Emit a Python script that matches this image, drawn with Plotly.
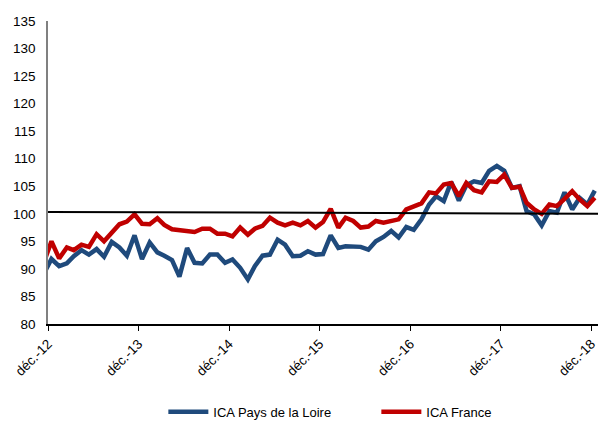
import pandas as pd
import plotly.graph_objects as go

# Monthly observations (mid-month), first value (nov.-12) lies just before the axis start
months = [d.strftime("%Y-%m-15") for d in pd.date_range("2012-11-01", "2018-12-01", freq="MS")]

ica_pdl = [89.2,
           91.8, 90.5, 91.0, 92.3, 93.4, 92.6, 93.6, 92.2, 94.9, 93.9, 92.4, 96.1,
           91.8, 94.8, 93.0, 92.4, 91.6, 88.6, 93.8, 91.1, 91.0, 92.6, 92.6, 91.1,
           91.7, 90.2, 88.1, 90.5, 92.4, 92.6, 95.3, 94.4, 92.3, 92.4, 93.2, 92.6,
           92.7, 96.1, 93.8, 94.1, 94.1, 94.0, 93.5, 95.0, 95.8, 96.9, 95.7, 97.6,
           97.1, 99.0, 101.7, 103.2, 102.3, 105.8, 102.4, 105.2, 105.9, 105.6, 107.8, 108.7,
           107.8, 104.7, 105.0, 100.5, 99.9, 97.9, 100.5, 100.2, 103.9, 100.8, 102.9, 101.7,
           104.2]

ica_france = [91.3,
              95.0, 91.9, 93.9, 93.4, 94.4, 94.0, 96.3, 95.0, 96.6, 98.1, 98.6, 99.9,
              98.2, 98.1, 99.2, 98.0, 97.2, 97.0, 96.9, 96.7, 97.3, 97.3, 96.4, 96.4,
              95.9, 97.5, 96.2, 97.3, 97.8, 99.3, 98.4, 97.9, 98.4, 97.9, 98.7, 97.5,
              98.5, 100.9, 97.5, 99.3, 98.7, 97.5, 97.7, 98.7, 98.4, 98.7, 99.0, 100.8,
              101.4, 101.9, 103.9, 103.7, 105.3, 105.6, 103.2, 105.6, 104.3, 103.9, 105.9, 105.8,
              107.1, 104.7, 104.9, 102.0, 100.8, 100.0, 101.7, 101.4, 102.7, 104.1, 102.6, 101.4,
              102.9]

tick_dates = ["2012-12-01", "2013-12-01", "2014-12-01", "2015-12-01",
              "2016-12-01", "2017-12-01", "2018-12-01"]
tick_labels = ["déc.-12", "déc.-13", "déc.-14", "déc.-15", "déc.-16", "déc.-17", "déc.-18"]
y_ticks = [80, 85, 90, 95, 100, 105, 110, 115, 120, 125, 130, 135]
ref_line = [100.35, 100.0]

BLUE = "#1F4A7C"
RED = "#C00000"
FONT = "Liberation Sans, Arial, sans-serif"

fig = go.Figure()
fig.add_trace(go.Scatter(x=months, y=ica_pdl, mode="lines", name="ICA Pays de la Loire",
                         line=dict(color=BLUE, width=4.5), hoverinfo="skip"))
fig.add_trace(go.Scatter(x=months, y=ica_france, mode="lines", name="ICA France",
                         line=dict(color=RED, width=4.5), hoverinfo="skip"))

fig.add_shape(type="line", xref="paper", yref="y", x0=0, x1=1,
              y0=ref_line[0], y1=ref_line[1], line=dict(color="black", width=2))

fig.update_layout(
    width=600, height=421,
    margin=dict(l=48, r=2, t=21, b=97, autoexpand=False),
    paper_bgcolor="white", plot_bgcolor="white",
    font=dict(family=FONT, size=13, color="#000000"),
    showlegend=True,
    legend=dict(orientation="h", x=0.597, xanchor="center", y=-0.29, yanchor="middle",
                font=dict(family=FONT, size=13), entrywidth=158, itemwidth=40),
)
fig.update_xaxes(type="date", range=["2012-12-01", "2018-12-28"], automargin=False,
                 tickmode="array", tickvals=tick_dates, ticktext=tick_labels,
                 tickangle=-45, ticks="outside", ticklen=5, tickcolor="black",
                 showline=True, linecolor="black", linewidth=1.5,
                 showgrid=False, zeroline=False, tickfont=dict(size=13.5))
fig.update_yaxes(range=[80, 135], tickmode="array", tickvals=y_ticks, automargin=False,
                 showline=True, linecolor="#808080", linewidth=1.5, ticklabelstandoff=8,
                 showgrid=False, zeroline=False, ticks="", tickfont=dict(size=13.5))

fig.write_html("out.html", config={"displayModeBar": False},
               post_script="document.body.style.margin='0px';document.body.style.padding='0px';")
